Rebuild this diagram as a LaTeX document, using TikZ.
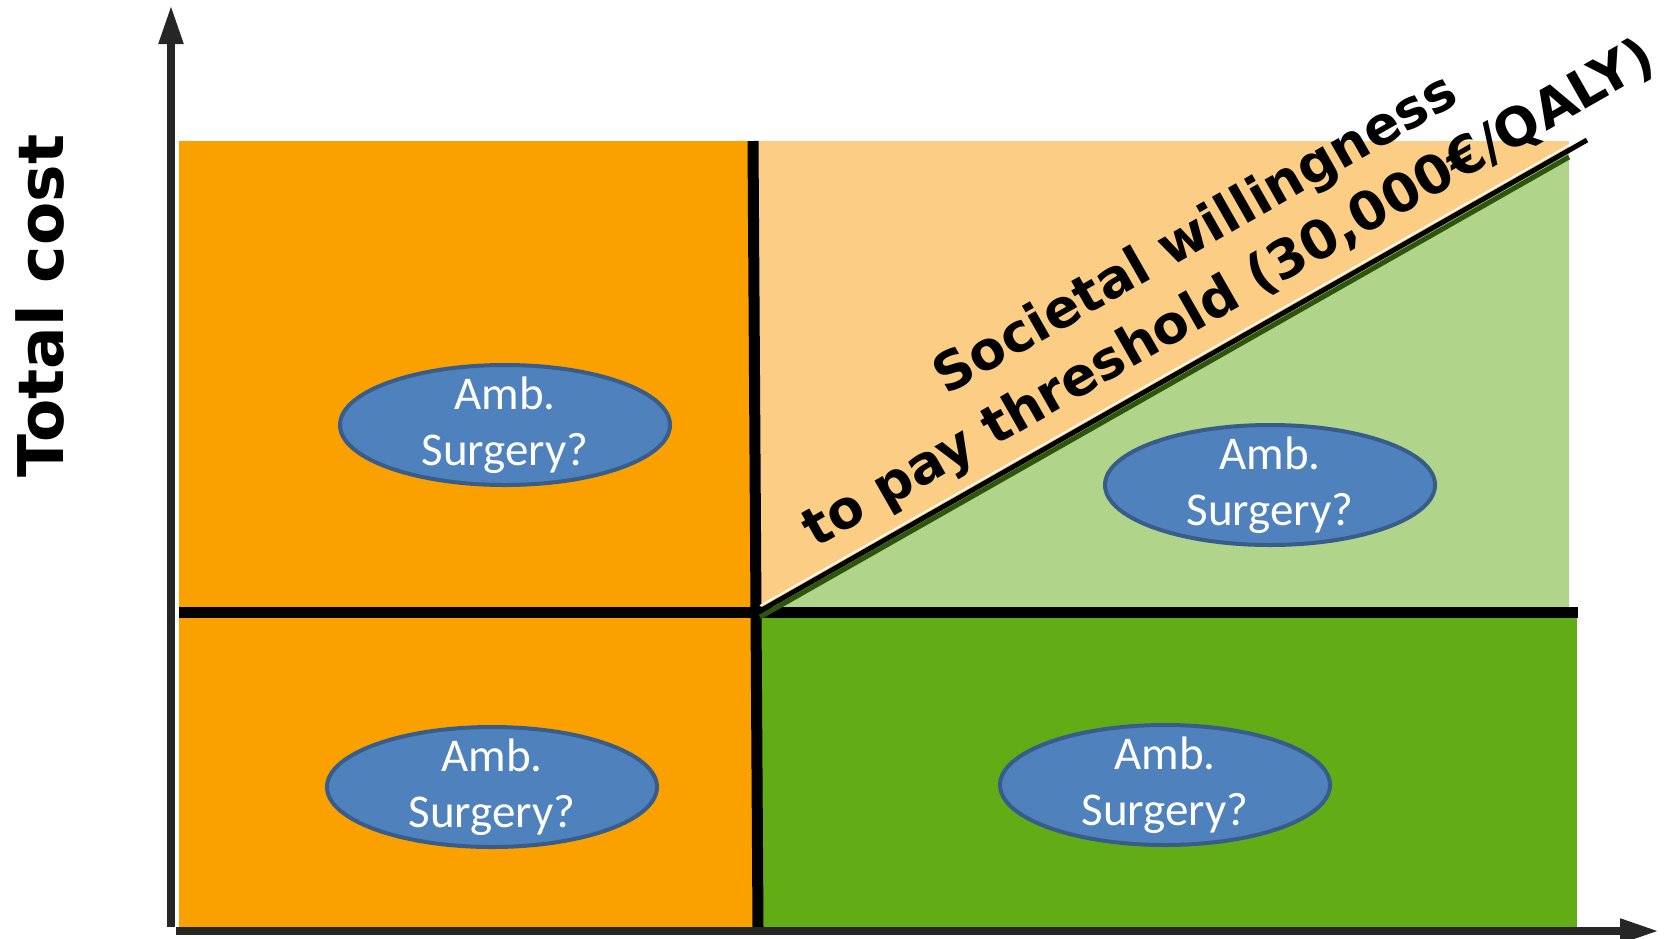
\documentclass[tikz,border=0pt]{standalone}
\usepackage{fontspec}
\setmainfont{DejaVu Sans}
\newfontfamily\calibri{Carlito}
\usepackage{tikz}
\usetikzlibrary{shapes.geometric,arrows.meta}

\definecolor{quadorange}{RGB}{250,161,0}
\definecolor{paleorange}{RGB}{252,205,132}
\definecolor{palegreen}{RGB}{176,213,138}
\definecolor{quadgreen}{RGB}{98,172,22}
\definecolor{shadegreen}{RGB}{47,85,12}
\definecolor{ambblue}{RGB}{79,129,189}
\definecolor{ambline}{RGB}{56,93,138}
\definecolor{axisgray}{RGB}{38,38,38}

\begin{document}
\begin{tikzpicture}[x=0.5pt,y=-0.5pt,
		amb/.style={ellipse, draw=ambline, fill=ambblue, line width=2pt, minimum width=165pt, minimum height=60pt, inner xsep=0pt, inner ysep=-5pt, align=center, text=white, font=\calibri\fontsize{23.5pt}{28pt}\selectfont},
		axis/.style={draw=axisgray, line width=4pt, -{Triangle[length=19.5pt,width=11.5pt]}},
		divider/.style={draw=black, line width=5.5pt}]
			\useasboundingbox (0,0) rectangle (1680,938);
			% Quadrants
			\fill[quadorange] (179,141) rectangle (757,928);
			\fill[paleorange] (757,141) rectangle (1569,612);
			\fill[quadgreen] (757,612) rectangle (1577,928);
			\fill[palegreen] (762,612) -- (1569,151) -- (1569,612) -- cycle;
			% Dividers
			\coordinate (top) at (753,141);
			\coordinate (bottom) at (758,928);
			\coordinate (left) at (179,612);
			\coordinate (right) at (1578,612);
			\draw[divider] (top) -- (bottom);
			\draw[divider] (left) -- (right);
			% Threshold
			\coordinate (wtpstart) at (760,611);
			\coordinate (wtpend) at (1587,140);
			\draw[shadegreen, line width=2.5pt] ([yshift=-3pt]wtpstart) -- ([yshift=-3pt]1569,151);
			\draw[white, line width=0.8pt] ([yshift=2.6pt]wtpstart) -- ([yshift=2.6pt]wtpend);
			\draw[black, line width=2.5pt] (wtpstart) -- (wtpend);
			\node[rotate=29.7, align=center, font=\bfseries\fontsize{26.5pt}{34pt}\selectfont] (wtp) at (1213,266) {Societal willingness\\to pay threshold (30,000€/QALY)};
			% Axes
			\coordinate (origin) at (171,927);
			\coordinate (ytip) at (171,5);
			\coordinate (xstart) at (176,931);
			\coordinate (xtip) at (1659,931);
			\draw[axis] (origin) -- (ytip);
			\draw[axis] (xstart) -- (xtip);
			\node[rotate=90, inner sep=0pt, font=\bfseries\fontsize{31.5pt}{36pt}\selectfont] (ylabel) at (40,306) {Total cost};
			% Ellipses
			\foreach \x/\y [count=\i] in {505/425, 1270/485, 492/787, 1165/785} {
				\node[amb] (amb\i) at (\x,\y) {Amb.\\Surgery?};
			}
		\end{tikzpicture}
\end{document}
